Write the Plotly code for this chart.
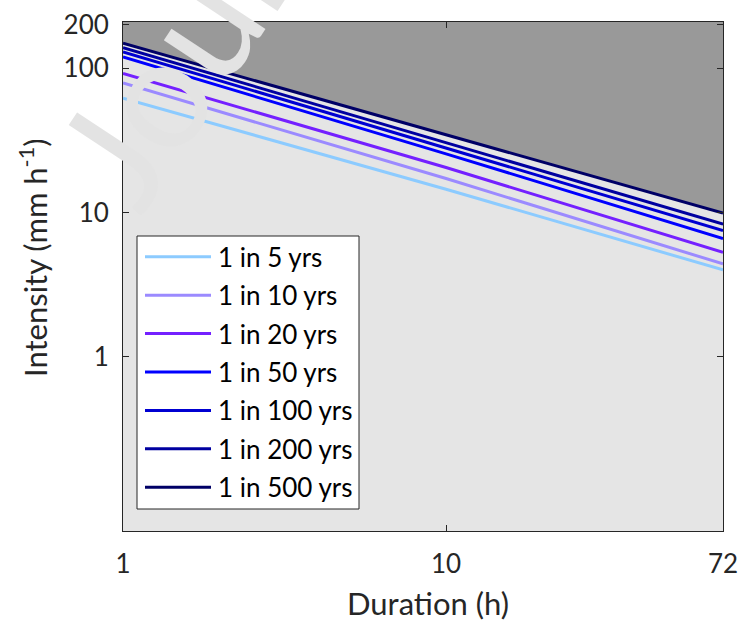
import plotly.graph_objects as go
import math

# ---------------- data ----------------
DURATIONS = [1, 10, 72]  # h
LABELS = ["1 in 5 yrs", "1 in 10 yrs", "1 in 20 yrs", "1 in 50 yrs",
          "1 in 100 yrs", "1 in 200 yrs", "1 in 500 yrs"]
I_5 = [62, 14.5, 4.0]
I_10 = [79, 17.2, 4.4]
I_20 = [92, 20.5, 5.3]
I_50 = [120, 25.5, 6.6]
I_100 = [130, 28.0, 7.5]
I_200 = [139, 30.5, 8.3]
I_500 = [149, 34.8, 9.9]
SERIES = [I_5, I_10, I_20, I_50, I_100, I_200, I_500]
COLORS = ["#8ccbff", "#9b8aff", "#7420ff", "#0000ff", "#0000d2", "#0000a0", "#000066"]
X_TICKS = [1, 10, 72]
Y_TICKS = [1, 10, 100, 200]
Y_TICKTEXT = ["1", "10", "100", "200"]

# ---------------- layout geometry ----------------
W, H = 740, 624
L, R, T, B = 123, 17, 22, 93
PW, PH = W - L - R, H - T - B
Y_LOG_RANGE = [-1.209, 2.321]
X_LOG_RANGE = [0, math.log10(72)]
Y_TOP = 10 ** 2.6

def px(x):
    return (x - L) / PW

def py(y):
    return (H - B - y) / PH

FONT = "Lato, 'Open Sans', sans-serif"
AX = "#262626"

fig = go.Figure()

# dark region above the most extreme curve
fig.add_trace(go.Scatter(x=DURATIONS, y=[Y_TOP] * len(DURATIONS), mode="lines",
                         line=dict(width=0), showlegend=False, hoverinfo="skip"))
fig.add_trace(go.Scatter(x=DURATIONS, y=I_500, mode="lines", line=dict(width=0),
                         fill="tonexty", fillcolor="#999999", showlegend=False,
                         hoverinfo="skip"))

for name, vals, col in zip(LABELS, SERIES, COLORS):
    fig.add_trace(go.Scatter(x=DURATIONS, y=vals, mode="lines", name=name,
                             line=dict(color=col, width=3), showlegend=False))

shapes = []
annotations = []

# custom legend
shapes.append(dict(type="rect", xref="paper", yref="paper",
                   x0=px(137), x1=px(359), y0=py(509), y1=py(236),
                   fillcolor="white", line=dict(color=AX, width=1), layer="above"))
for i, (name, col) in enumerate(zip(LABELS, COLORS)):
    yc = 256.7 + i * 38.43
    shapes.append(dict(type="line", xref="paper", yref="paper",
                       x0=px(145), x1=px(211), y0=py(yc), y1=py(yc),
                       line=dict(color=col, width=3), layer="above"))
    annotations.append(dict(text=name, xref="paper", yref="paper", x=px(216), y=py(yc),
                            xanchor="left", yanchor="middle", showarrow=False,
                            font=dict(family=FONT, size=26, color="black")))

# axis titles
annotations.append(dict(text="Duration (h)", xref="paper", yref="paper",
                        x=px(428), y=py(603), xanchor="center", yanchor="middle",
                        showarrow=False, font=dict(family=FONT, size=31, color=AX)))
annotations.append(dict(text="Intensity (mm h<sup>-1</sup>)", xref="paper", yref="paper",
                        x=px(33), y=py(258), xanchor="center", yanchor="middle",
                        textangle=-90, showarrow=False,
                        font=dict(family=FONT, size=31, color=AX)))

# watermark
annotations.append(dict(text="Journal Pre-proof", xref="paper", yref="paper",
                        x=px(418), y=py(-310), xanchor="center", yanchor="middle",
                        textangle=-56.5, showarrow=False,
                        font=dict(family=FONT, size=155, color="#e3e3e3")))

fig.update_layout(
    width=W, height=H, autosize=False,
    margin=dict(l=L, r=R, t=T, b=B, pad=0, autoexpand=False),
    paper_bgcolor="white", plot_bgcolor="#e5e5e5",
    showlegend=False,
    shapes=shapes, annotations=annotations,
    font=dict(family=FONT, color=AX),
)
fig.update_xaxes(type="log", range=X_LOG_RANGE, tickvals=X_TICKS,
                 ticktext=[str(v) for v in X_TICKS], automargin=False,
                 ticks="inside", ticklen=6, tickcolor=AX, tickwidth=1,
                 showline=True, linecolor=AX, linewidth=1, mirror="allticks",
                 showgrid=False, zeroline=False,
                 tickfont=dict(family=FONT, size=26, color=AX), ticklabelstandoff=10)
fig.update_yaxes(type="log", range=Y_LOG_RANGE, tickvals=Y_TICKS, ticktext=Y_TICKTEXT,
                 automargin=False,
                 ticks="inside", ticklen=6, tickcolor=AX, tickwidth=1,
                 showline=True, linecolor=AX, linewidth=1, mirror="allticks",
                 showgrid=False, zeroline=False,
                 tickfont=dict(family=FONT, size=26, color=AX), ticklabelstandoff=8)

fig.write_html("out.html", config={"displayModeBar": False, "responsive": False},
               post_script="document.body.style.margin='0px';document.body.style.padding='0px';")
